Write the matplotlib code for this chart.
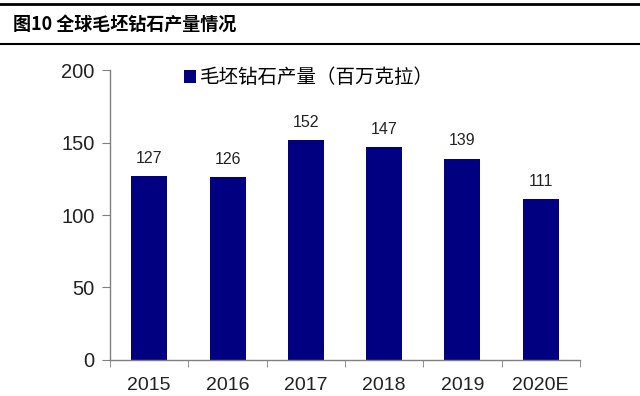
import matplotlib
matplotlib.use("Agg")
import matplotlib.pyplot as plt
import numpy as np

plt.rcParams['font.family'] = ['Liberation Sans', 'Noto Sans CJK SC', 'DejaVu Sans']

years = ['2015', '2016', '2017', '2018', '2019', '2020E']
output = [127, 126, 152, 147, 139, 111]
title = '图10 全球毛坯钻石产量情况'
legend_label = '毛坯钻石产量（百万克拉）'

fig = plt.figure(figsize=(6.4, 3.96), dpi=100)

# header lines and title
fig.add_artist(plt.Line2D([0.0, 1.0], [0.99, 0.99], color='black', lw=2.0))
fig.add_artist(plt.Line2D([0.0, 1.0], [0.888, 0.888], color='black', lw=1.5))
fig.text(0.02, 0.94, title, fontsize=13, fontweight='bold', va='center',
         family=['Noto Sans CJK SC', 'DejaVu Sans'])

ax = fig.add_axes([0.172, 0.091, 0.734, 0.732])
x = np.arange(len(years))
ax.bar(x, output, width=0.46, color='#000080', label=legend_label)

for xi, v in zip(x, output):
  ax.text(xi, v + 7, str(v), ha='center', va='bottom', fontsize=11.5, color='#222222')

ax.set_xlim(-0.5, len(years) - 0.5)
ax.set_ylim(0, 200)
ax.set_yticks([0, 50, 100, 150, 200])
ax.set_xticks(x)
ax.set_xticklabels(years)
ax.set_xticks(np.arange(-0.5, len(years) + 0.5, 1.0), minor=True)
ax.tick_params(axis='x', which='major', length=0, labelsize=14, pad=12, colors='#222222')
ax.tick_params(axis='x', which='minor', length=5, color='#808080', direction='out')
ax.tick_params(axis='y', length=6, color='#808080', labelsize=14.5, labelcolor='#222222', pad=5)

for s in ['top', 'right']:
  ax.spines[s].set_visible(False)
for s in ['left', 'bottom']:
  ax.spines[s].set_color('#808080')
  ax.spines[s].set_linewidth(1.0)

ax.legend(loc='upper left', bbox_to_anchor=(0.12, 1.07), frameon=False,
          handlelength=0.6, handleheight=0.6, handletextpad=0.2,
          prop={'family': ['Noto Sans CJK SC', 'DejaVu Sans'], 'size': 14})

fig.savefig('out.png', dpi=100)
